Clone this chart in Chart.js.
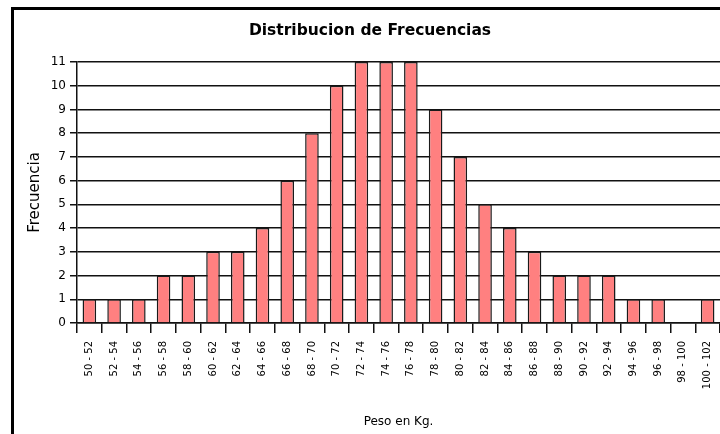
<!DOCTYPE html>
<html>
<head>
<meta charset="utf-8">
<script src="https://cdn.jsdelivr.net/npm/chart.js@4.4.1/dist/chart.umd.min.js"></script>
<style>
  html, body { margin: 0; padding: 0; background: #fff; overflow: hidden; }
  #wrap { position: relative; width: 720px; height: 434px; }
  #frame { position: absolute; left: 11px; top: 7px; width: 800px; height: 500px;
           border-left: 3px solid #000; border-top: 3px solid #000; }
  canvas { position: absolute; left: 0; top: 0; }
</style>
</head>
<body>
<div id="wrap">
  <div id="frame"></div>
  <canvas id="c" width="720" height="434"></canvas>
</div>
<script>
const categories = ["50 - 52","52 - 54","54 - 56","56 - 58","58 - 60","60 - 62","62 - 64","64 - 66","66 - 68","68 - 70","70 - 72","72 - 74","74 - 76","76 - 78","78 - 80","80 - 82","82 - 84","84 - 86","86 - 88","88 - 90","90 - 92","92 - 94","94 - 96","96 - 98","98 - 100","100 - 102"];
const frecuencias = [1,1,1,2,2,3,3,4,6,8,10,11,11,11,9,7,5,4,3,2,2,2,1,1,0,1];
const yMin = 0;
const yMax = 11;

const FONT = "'DejaVu Sans', Verdana, sans-serif";

new Chart(document.getElementById('c'), {
  type: 'bar',
  data: {
    labels: categories,
    datasets: [{
      data: frecuencias,
      backgroundColor: '#FF8080',
      borderColor: '#1a1a1a',
      borderWidth: 1.5,
      barPercentage: 0.55,
      categoryPercentage: 1.0
    }]
  },
  options: {
    responsive: false,
    animation: false,
    layout: { padding: { left: 20, right: 0, top: 0, bottom: 0 } },
    plugins: {
      legend: { display: false },
      tooltip: { enabled: false },
      title: {
        display: true,
        text: 'Distribucion de Frecuencias',
        color: '#000',
        font: { family: FONT, size: 15.5, weight: 'bold' },
        padding: { top: 22, bottom: 21.4 }
      }
    },
    scales: {
      x: {
        offset: true,
        afterFit: s => { s.height = 111; s.paddingRight = 0; s.paddingLeft = 0; },
        grid: { offset: true, drawOnChartArea: false, drawTicks: true, tickLength: 10, color: '#111', lineWidth: 1.5 },
        border: { display: true, color: '#111', width: 1.5 },
        ticks: { autoSkip: false, maxRotation: 90, minRotation: 90, padding: 8, color: '#000', font: { family: FONT, size: 10 } },
        title: { display: true, text: 'Peso en Kg.', color: '#000', font: { family: FONT, size: 12 }, padding: { top: 0, bottom: 5 } }
      },
      y: {
        min: yMin,
        max: yMax,
        afterFit: s => { s.width = 57; },
        grid: { color: '#111', lineWidth: 1.5, tickLength: 7 },
        border: { display: true, color: '#111', width: 1.5 },
        ticks: { stepSize: 1, padding: 4, color: '#000', font: { family: FONT, size: 12 } },
        title: { display: true, text: 'Frecuencia', color: '#000', font: { family: FONT, size: 15 }, padding: { top: 6, bottom: 0 } }
      }
    }
  }
});
</script>
</body>
</html>
